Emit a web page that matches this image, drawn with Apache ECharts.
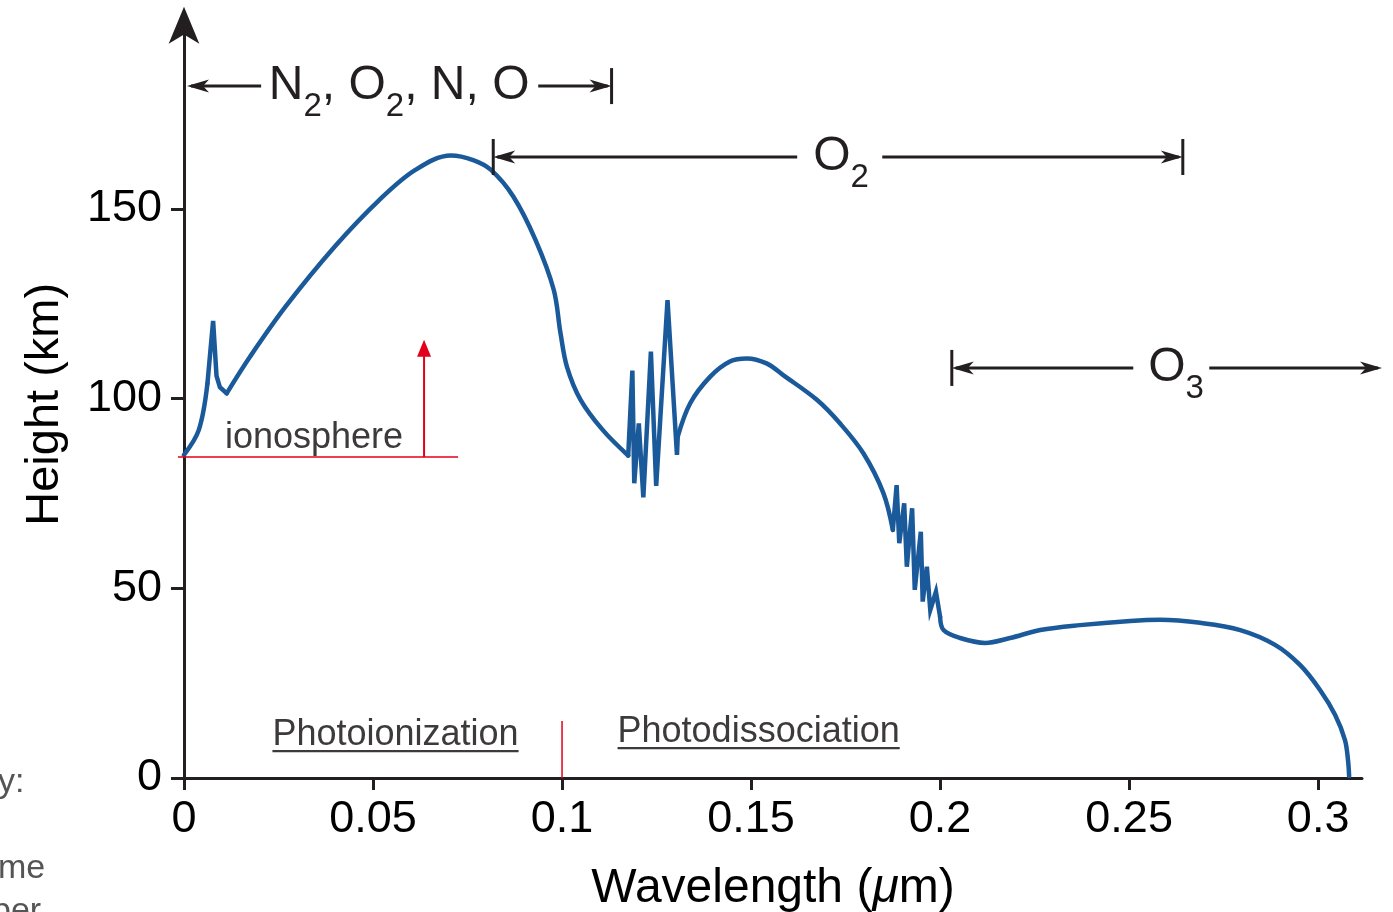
<!DOCTYPE html>
<html><head><meta charset="utf-8">
<script src="https://cdn.jsdelivr.net/npm/echarts@6/dist/echarts.min.js"></script>
<style>html,body{margin:0;padding:0;background:#fff}#c{width:1393px;height:912px}</style>
</head><body><div id="c"></div>
<script>
// ---- data ----
const wavelength = [0,0.0039,0.0062,0.0077,0.0086,0.0095,0.0113,0.0175,0.0269,0.0399,0.0517,0.0612,0.0706,0.0765,0.0812,0.0871,0.093,0.0978,0.0996,0.1013,0.1049,0.1108,0.1175,0.1186,0.1191,0.1203,0.1215,0.1235,0.1249,0.1279,0.1304,0.1306,0.1339,0.1392,0.1444,0.1489,0.1541,0.1585,0.1674,0.1735,0.1797,0.185,0.1875,0.1885,0.1892,0.1905,0.1912,0.1926,0.1933,0.1949,0.1954,0.1965,0.1974,0.1989,0.2,0.2009,0.2053,0.2119,0.2185,0.2265,0.237,0.2503,0.2582,0.2688,0.2794,0.2886,0.2952,0.3005,0.3045,0.3071,0.3079,0.3082];
const heightKm = [85.2,91.7,104,120.5,106,103,101.4,111.1,124.3,140.1,152.4,160.3,164.1,162.9,160.3,153.3,141.8,128.7,117.2,108.4,99.7,91.7,85.0,107.4,77.7,93.5,74.0,112.4,77,126,85.2,90,98.8,105.8,109.8,110.6,109.3,106.2,99.7,93.5,85.6,75.1,65.4,77.2,61.9,72.4,55.7,71.1,49.6,64.9,46.5,55.7,44.3,49.1,42.5,39.0,36.9,35.6,36.9,39,40.3,41.4,41.7,40.9,39,35.1,29.8,23.2,16.6,10,4.7,0.5];
// index ranges of the sharp absorption-band spikes (drawn without smoothing)
const spikeRanges = [[2,6],[22,31],[42,54]];
const xTickValues = [0,0.05,0.1,0.15,0.2,0.25,0.3];
const yTickValues = [0,50,100,150];
// absorber spans: [x0, xLeftLineEnd, xText, xRightLineStart, x1, y]
const absorberLabels = ['N2O2NO', 'O2', 'O3'];
const absorberSpans = [
  [0.0008, 0.0204, 0.0569, 0.0937, 0.1131, 182.4],
  [0.0818, 0.1622, 0.1738, 0.1847, 0.2642, 163.7],
  [0.2031, 0.2511, 0.2624, 0.2712, 0.3169, 108.1]
];
const absorberBars = [[false,true],[true,true],[true,false]];
const ionosphereLevel = 84.6;      // km
const ionosphereLine = [-0.0016, 0.0725];
const ionosphereArrow = [0.0635, 84.6, 115.5];
const ionosphereText = [0.0344, 89.6];
const processLabels = ['Photoionization', 'Photodissociation'];
const processPos = [[0.05595, 11.3],[0.152, 12.1]];
const processDivider = [0.1, 0, 15];

const FONT = '"Liberation Sans", Arial, Helvetica, sans-serif';
const INK = '#231f20';
const GRAY = '#3d3a3b';
const RED = '#e2001a';
const BLUE = '#1a5a9a';

const inSpikeInterior = i => spikeRanges.some(([a, b]) => i > a && i < b);
const inSpike = i => spikeRanges.some(([a, b]) => i >= a && i <= b);
const smoothData = wavelength.map((x, i) => inSpikeInterior(i) ? [x, null] : [x, heightKm[i]]);
const sharpData = wavelength.map((x, i) => inSpike(i) ? [x, heightKm[i]] : [x, null]);

const chart = echarts.init(document.getElementById('c'));
chart.setOption({
  animation: false,
  backgroundColor: '#fff',
  grid: {left: 184, right: 31, top: 30.7, bottom: 134, containLabel: false, outerBoundsMode: 'none'},
  xAxis: {
    type: 'value', min: 0, max: 0.3116,
    axisLine: {lineStyle: {color: INK, width: 3}},
    axisTick: {show: true, length: 12, inside: false, lineStyle: {color: INK, width: 3}, customValues: xTickValues},
    axisLabel: {customValues: xTickValues, fontSize: 45, fontFamily: FONT, color: '#000', margin: 19,
      formatter: v => String(+v.toFixed(2))},
    splitLine: {show: false},
    name: '{n|Wavelength (}{i|μ}{n|m)}', nameLocation: 'middle', nameGap: 87,
    nameTextStyle: {rich: {n: {fontSize: 48, fontFamily: FONT, color: '#000'}, i: {fontSize: 48, fontFamily: FONT, fontStyle: 'italic', color: '#000'}}}
  },
  yAxis: {
    type: 'value', min: 0, max: 197,
    axisLine: {show: true, symbol: ['none','arrow'], symbolSize: [23, 37], symbolOffset: [0, 24], lineStyle: {color: INK, width: 3}},
    axisTick: {show: true, length: 13, inside: false, lineStyle: {color: INK, width: 3}, customValues: yTickValues},
    axisLabel: {customValues: yTickValues, fontSize: 45, fontFamily: FONT, color: '#000', margin: 22},
    splitLine: {show: false},
    name: 'Height (km)', nameLocation: 'middle', nameGap: 115, nameRotate: 90,
    nameTextStyle: {fontSize: 47, fontFamily: FONT, color: '#000'}
  },
  series: [{
    type: 'line', data: smoothData, connectNulls: false,
    showSymbol: false, smooth: 0.35, clip: false,
    lineStyle: {color: BLUE, width: 4.5, cap: 'round', join: 'round'}
  }, {
    type: 'line', data: sharpData, connectNulls: false,
    showSymbol: false, smooth: false, clip: false,
    lineStyle: {color: BLUE, width: 4.5, cap: 'round', join: 'miter'}
  }]
});

const ctx = document.createElement('canvas').getContext('2d');
function textW(str, size) { ctx.font = size + 'px ' + FONT; return ctx.measureText(str).width; }
function P(x, y) { return chart.convertToPixel({gridIndex: 0}, [x, y]); }
function head(tx, ty, dir, color, L, W, N) {
  const [dx, dy] = dir, px = -dy, py = dx;
  const bx = tx - dx * L, by = ty - dy * L;
  const nx = tx - dx * (L - N), ny = ty - dy * (L - N);
  return {type: 'polygon', silent: true, z: 20, shape: {points: [[tx, ty], [bx + px * W, by + py * W], [nx, ny], [bx - px * W, by - py * W]]}, style: {fill: color}};
}
function line(x1, y1, x2, y2, color, w) {
  return {type: 'line', silent: true, z: 19, shape: {x1, y1, x2, y2}, style: {stroke: color, lineWidth: w}};
}
function buildGraphics() {
  const g = [];
  const richMain = {a: {fontSize: 48, fontFamily: FONT, fill: INK}, s: {fontSize: 33, fontFamily: FONT, fill: INK, padding: [41, 0, 0, 0]}};
  const texts = {
    'N2O2NO': '{a|N}{s|2}{a|, O}{s|2}{a|, N, O}',
    'O2': '{a|O}{s|2}',
    'O3': '{a|O}{s|3}'
  };
  absorberSpans.forEach((s, i) => {
    const [x0, xa, xc, xb, x1, y] = s;
    const p0 = P(x0, y), pa = P(xa, y), pc = P(xc, y), pb = P(xb, y), p1 = P(x1, y);
    const yy = p0[1];
    g.push(line(p0[0] + 4, yy, pa[0], yy, INK, 3));
    g.push(line(pb[0], yy, p1[0] - 4, yy, INK, 3));
    g.push(head(p0[0], yy, [-1, 0], INK, 22, 6.5, 6));
    g.push(head(p1[0], yy, [1, 0], INK, 22, 6.5, 6));
    if (absorberBars[i][0]) g.push(line(p0[0], yy - 18, p0[0], yy + 18, INK, 3));
    if (absorberBars[i][1]) g.push(line(p1[0], yy - 18, p1[0], yy + 18, INK, 3));
    g.push({type: 'text', silent: true, z: 21, x: pc[0], y: yy, style: {text: texts[absorberLabels[i]], rich: richMain, textAlign: 'center', textVerticalAlign: 'middle'}});
  });
  // ionosphere
  const l0 = P(ionosphereLine[0], ionosphereLevel), l1 = P(ionosphereLine[1], ionosphereLevel);
  g.push(line(l0[0], l0[1], l1[0], l1[1], RED, 1.5));
  const a0 = P(ionosphereArrow[0], ionosphereArrow[1]), a1 = P(ionosphereArrow[0], ionosphereArrow[2]);
  g.push(line(a0[0], a0[1], a1[0], a1[1] + 10, RED, 2));
  g.push(head(a1[0], a1[1], [0, -1], RED, 17, 7, 0));
  const it = P(ionosphereText[0], ionosphereText[1]);
  g.push({type: 'text', silent: true, z: 21, x: it[0], y: it[1], style: {text: 'ionosphere', fontSize: 36, fontFamily: FONT, fill: GRAY, textAlign: 'center', textVerticalAlign: 'middle'}});
  // process labels
  processLabels.forEach((t, i) => {
    const p = P(processPos[i][0], processPos[i][1]);
    const w = textW(t, 36);
    g.push({type: 'text', silent: true, z: 21, x: p[0], y: p[1], style: {text: t, fontSize: 36, fontFamily: FONT, fill: GRAY, textAlign: 'center', textVerticalAlign: 'middle'}});
    g.push(line(p[0] - w / 2, p[1] + 16, p[0] + w / 2, p[1] + 16, GRAY, 2.2));
  });
  const d0 = P(processDivider[0], processDivider[1]), d1 = P(processDivider[0], processDivider[2]);
  g.push(line(d0[0], d0[1], d1[0], d1[1], RED, 1.5));
  // cropped text from neighbouring page at left edge
  g.push({type: 'text', silent: true, x: -2, y: 783, style: {text: 'y:', fontSize: 34, fontFamily: FONT, fill: '#555', textVerticalAlign: 'middle'}});
  g.push({type: 'text', silent: true, x: -2, y: 869, style: {text: 'me', fontSize: 34, fontFamily: FONT, fill: '#555', textVerticalAlign: 'middle'}});
  g.push({type: 'text', silent: true, x: -8, y: 912, style: {text: 'per', fontSize: 34, fontFamily: FONT, fill: '#555', textVerticalAlign: 'middle'}});
  chart.setOption({graphic: g});
}
buildGraphics();
</script></body></html>
